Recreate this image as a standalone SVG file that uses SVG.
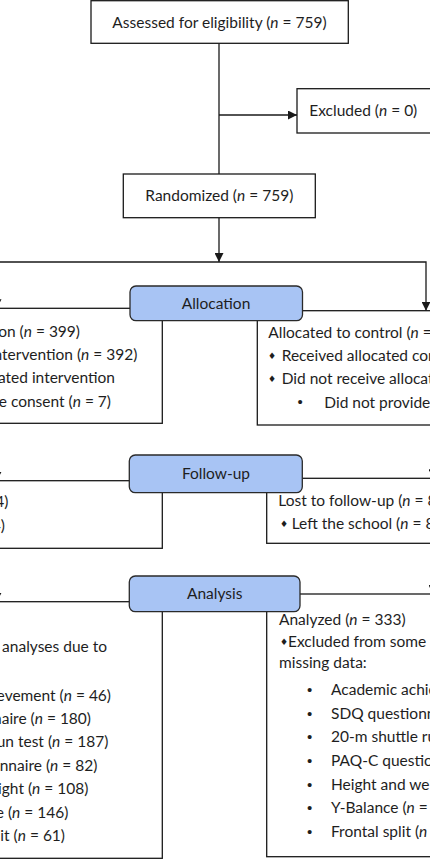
<svg xmlns="http://www.w3.org/2000/svg" width="430" height="860" viewBox="0 0 430 860">
<defs>
<marker id="ah" viewBox="0 0 10 10" refX="10" refY="5" markerWidth="9" markerHeight="9" markerUnits="userSpaceOnUse" orient="auto">
<path d="M0,0 L10,5 L0,10 Z" fill="#1a1a1a"/>
</marker>
<style>
.box{fill:#fff;stroke:#1a1a1a;stroke-width:1.3}
.lbl{fill:#a8c4f4;stroke:#2a2a2a;stroke-width:1.3}
.ln{fill:none;stroke:#1a1a1a;stroke-width:1.3}
text{font-family:Lato,"Liberation Sans",sans-serif;font-size:15.5px;fill:#1e1e1e}
.c{text-anchor:middle}
.e{text-anchor:end}
.i{font-style:italic}
.dm{font-family:"DejaVu Sans",sans-serif;font-size:9px}
.bu{font-family:"Liberation Sans",sans-serif;font-size:15px}
</style>
</defs>
<rect width="430" height="860" fill="#fff"/>
<g id="connectors">
<path class="ln" d="M219,43.3 V174"/>
<path class="ln" d="M219,115 H297" marker-end="url(#ah)"/>
<path class="ln" d="M219,217.7 V262" marker-end="url(#ah)"/>
<path class="ln" d="M-20,262 H426 V310.7" marker-end="url(#ah)"/>
<path class="ln" d="M-3,262 V308.3" marker-end="url(#ah)"/>
<path class="ln" d="M-3,423.3 V480.7" marker-end="url(#ah)"/>
<path class="ln" d="M433,425 V478.3" marker-end="url(#ah)"/>
<path class="ln" d="M-3,548.3 V601.7" marker-end="url(#ah)"/>
<path class="ln" d="M433,543.3 V594" marker-end="url(#ah)"/>
</g>
<g id="assessed">
<rect class="box" x="91" y="0.7" width="257.3" height="42.6"/>
<text class="c" x="219.5" y="28">Assessed for eligibility (<tspan class="i">n</tspan> = 759)</text>
</g>
<g id="excluded">
<rect class="box" x="297" y="88.7" width="200" height="44.3"/>
<text x="309.3" y="115.5">Excluded (<tspan class="i">n</tspan> = 0)</text>
</g>
<g id="randomized">
<rect class="box" x="123.3" y="174" width="192" height="43.7"/>
<text class="c" x="219.3" y="201">Randomized (<tspan class="i">n</tspan> = 759)</text>
</g>
<g id="alloc-intervention">
<rect class="box" x="-10" y="308.3" width="172.3" height="115"/>
<text class="e" x="80" y="336.5">Allocated to intervention (<tspan class="i">n</tspan> = 399)</text>
<text class="e" x="137.3" y="360">Received allocated intervention (<tspan class="i">n</tspan> = 392)</text>
<text class="e" x="115" y="383">Did not receive allocated intervention</text>
<text class="e" x="111" y="407">Did not provide consent (<tspan class="i">n</tspan> = 7)</text>
</g>
<g id="alloc-control">
<rect class="box" x="257.3" y="310.7" width="200" height="114.3"/>
<text x="268.3" y="337.5">Allocated to control (<tspan class="i">n</tspan> =</text>
<text class="dm" x="268" y="359">♦</text>
<text x="281.7" y="361">Received allocated control</text>
<text class="dm" x="268" y="382">♦</text>
<text x="281.7" y="384">Did not receive allocated</text>
<text class="bu" x="297.5" y="407">•</text>
<text x="324.3" y="408">Did not provide consent</text>
</g>
<g id="allocation-label">
<rect class="lbl" x="130" y="286" width="172.5" height="34.7" rx="6"/>
<text class="c" x="216" y="309">Allocation</text>
</g>
<g id="fu-intervention">
<rect class="box" x="-10" y="480.7" width="172.3" height="67.6"/>
<text class="e" x="8.3" y="506.5">Lost to follow-up (<tspan class="i">n</tspan> = 4)</text>
<text class="e" x="5" y="531">Left the school (<tspan class="i">n</tspan> = 4)</text>
</g>
<g id="fu-control">
<rect class="box" x="266.7" y="478.3" width="200" height="65"/>
<text x="278.3" y="506">Lost to follow-up (<tspan class="i">n</tspan> = 8</text>
<text class="dm" x="280" y="527">♦</text>
<text x="291.7" y="529">Left the school (<tspan class="i">n</tspan> = 8</text>
</g>
<g id="followup-label">
<rect class="lbl" x="129.3" y="455" width="173" height="37.7" rx="6"/>
<text class="c" x="216" y="479">Follow-up</text>
</g>
<g id="an-intervention">
<rect class="box" x="-10" y="601.7" width="172.3" height="256.6"/>
<text class="e" x="107" y="651.5">Excluded from some analyses due to</text>
<text class="e" x="111" y="700.5">Academic achievement (<tspan class="i">n</tspan> = 46)</text>
<text class="e" x="91" y="724">SDQ questionnaire (<tspan class="i">n</tspan> = 180)</text>
<text class="e" x="108.3" y="747.3">20-m shuttle run test (<tspan class="i">n</tspan> = 187)</text>
<text class="e" x="97.3" y="770.7">PAQ-C questionnaire (<tspan class="i">n</tspan> = 82)</text>
<text class="e" x="88.3" y="794">Height and weight (<tspan class="i">n</tspan> = 108)</text>
<text class="e" x="68.3" y="817.5">Y-Balance (<tspan class="i">n</tspan> = 146)</text>
<text class="e" x="65" y="841">Frontal split (<tspan class="i">n</tspan> = 61)</text>
</g>
<g id="an-control">
<rect class="box" x="266.7" y="594" width="200" height="262.7"/>
<text x="279" y="625">Analyzed (<tspan class="i">n</tspan> = 333)</text>
<text class="dm" x="280" y="644.5">♦</text>
<text x="288" y="646.5">Excluded from some analyses</text>
<text x="279" y="668">missing data:</text>
<text class="bu" x="307" y="695">•</text>
<text x="331" y="695">Academic achievement</text>
<text class="bu" x="307" y="718.7">•</text>
<text x="331" y="718.7">SDQ questionnaire</text>
<text class="bu" x="307" y="742.3">•</text>
<text x="331" y="742.3">20-m shuttle run test</text>
<text class="bu" x="307" y="766">•</text>
<text x="331" y="766">PAQ-C questionnaire</text>
<text class="bu" x="307" y="789.7">•</text>
<text x="331" y="789.7">Height and weight</text>
<text class="bu" x="307" y="813.3">•</text>
<text x="331" y="813.3">Y-Balance (<tspan class="i">n</tspan> =</text>
<text class="bu" x="307" y="837">•</text>
<text x="331" y="837">Frontal split (<tspan class="i">n</tspan> =</text>
</g>
<g id="analysis-label">
<rect class="lbl" x="129.3" y="576" width="170.7" height="35.7" rx="6"/>
<text class="c" x="214.7" y="599">Analysis</text>
</g>
</svg>
